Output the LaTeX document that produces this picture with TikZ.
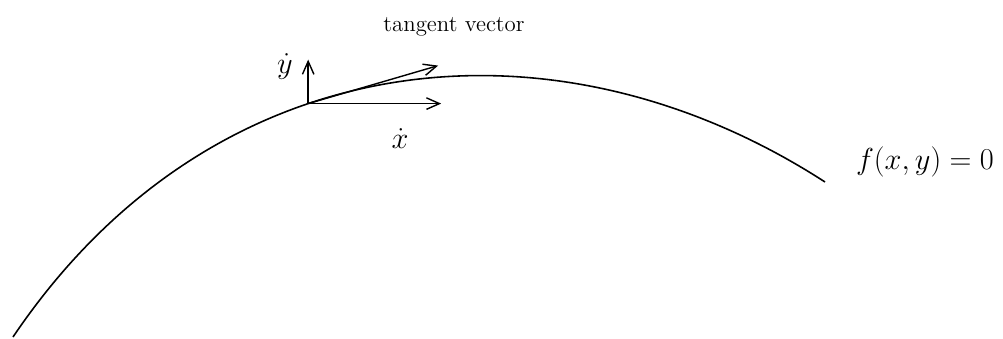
\documentclass[tikz,border=0pt]{standalone}
\usepackage{tikz}
\usetikzlibrary{arrows.meta,calc}
\usepackage{amsmath,amssymb}
\tikzset{
  vec/.style={-{Straight Barb[length=2.6mm,width=2.3mm]},line width=0.8pt},
  lbl/.style={inner sep=0pt,font=\fontsize{17}{19}\selectfont}
}
\begin{document}
\begin{tikzpicture}[x=0.02cm,y=-0.02cm]
  \useasboundingbox (0,0) rectangle (1003,338);
  % Curve f(x,y)=0
  \draw[line width=0.9pt] (13,337) .. controls (214,39) and (556,8) .. (825,182)
    coordinate[pos=0.4] (p);
  % Vectors at the point
  \coordinate (ytip) at ($(p)+(0,-44)$);
  \coordinate (xtip) at ($(p)+(133,0)$);
  \coordinate (ttip) at ($(p)+(130,-38)$);
  \draw[vec] (p) -- (ytip);
  \draw[vec] (p) -- (xtip);
  \draw[vec] (p) -- (ttip);
  % Labels
  \node[inner sep=0pt,font=\fontsize{13}{15}\selectfont] (tanlbl) at (454,27) {tangent vector};
  \node[lbl] (ydot) at (285,66) {$\dot{y}$};
  \node[lbl] (xdot) at (400,139) {$\dot{x}$};
  \node[lbl] (curvelbl) at (925,162) {$f(x,y)=0$};
\end{tikzpicture}
\end{document}
